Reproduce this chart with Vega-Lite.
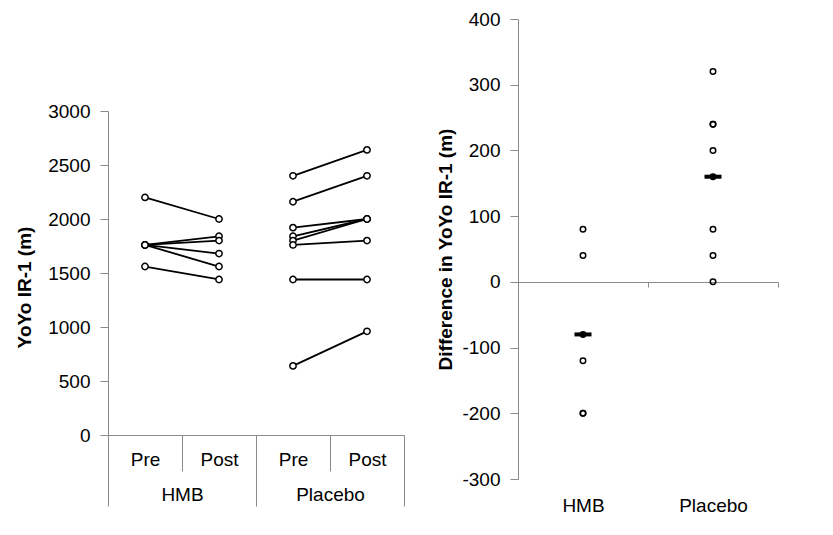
{
  "$schema": "https://vega.github.io/schema/vega-lite/v6.json",
  "padding": {"left": 15, "top": 10, "right": 20, "bottom": 10},
  "spacing": 114,
  "bounds": "flush",
  "config": {
    "font": "Liberation Sans",
    "view": {"stroke": null},
    "axis": {
      "labelFont": "Liberation Sans", "labelFontSize": 19, "labelColor": "#000",
      "domainColor": "#8a8a8a", "tickColor": "#8a8a8a", "grid": false,
      "titleFont": "Liberation Sans", "titleFontSize": 19, "titleFontWeight": "bold", "titleColor": "#000"
    }
  },
  "datasets": {
    "yoyo": [
      {"id": "h1", "cond": "HMB Pre", "value": 2200}, {"id": "h1", "cond": "HMB Post", "value": 2000},
      {"id": "h2", "cond": "HMB Pre", "value": 1760}, {"id": "h2", "cond": "HMB Post", "value": 1840},
      {"id": "h3", "cond": "HMB Pre", "value": 1760}, {"id": "h3", "cond": "HMB Post", "value": 1800},
      {"id": "h4", "cond": "HMB Pre", "value": 1760}, {"id": "h4", "cond": "HMB Post", "value": 1680},
      {"id": "h5", "cond": "HMB Pre", "value": 1760}, {"id": "h5", "cond": "HMB Post", "value": 1560},
      {"id": "h6", "cond": "HMB Pre", "value": 1560}, {"id": "h6", "cond": "HMB Post", "value": 1440},
      {"id": "p1", "cond": "Placebo Pre", "value": 2400}, {"id": "p1", "cond": "Placebo Post", "value": 2640},
      {"id": "p2", "cond": "Placebo Pre", "value": 2160}, {"id": "p2", "cond": "Placebo Post", "value": 2400},
      {"id": "p3", "cond": "Placebo Pre", "value": 1920}, {"id": "p3", "cond": "Placebo Post", "value": 2000},
      {"id": "p4", "cond": "Placebo Pre", "value": 1840}, {"id": "p4", "cond": "Placebo Post", "value": 2000},
      {"id": "p5", "cond": "Placebo Pre", "value": 1800}, {"id": "p5", "cond": "Placebo Post", "value": 2000},
      {"id": "p6", "cond": "Placebo Pre", "value": 1760}, {"id": "p6", "cond": "Placebo Post", "value": 1800},
      {"id": "p7", "cond": "Placebo Pre", "value": 1440}, {"id": "p7", "cond": "Placebo Post", "value": 1440},
      {"id": "p8", "cond": "Placebo Pre", "value": 640}, {"id": "p8", "cond": "Placebo Post", "value": 960}
    ],
    "groups": [{"group": "HMB"}, {"group": "Placebo"}],
    "diff": [
      {"group": "HMB", "diff": 80}, {"group": "HMB", "diff": 40}, {"group": "HMB", "diff": -80},
      {"group": "HMB", "diff": -120}, {"group": "HMB", "diff": -200}, {"group": "HMB", "diff": -200},
      {"group": "Placebo", "diff": 320}, {"group": "Placebo", "diff": 240}, {"group": "Placebo", "diff": 240},
      {"group": "Placebo", "diff": 200}, {"group": "Placebo", "diff": 160}, {"group": "Placebo", "diff": 80},
      {"group": "Placebo", "diff": 40}, {"group": "Placebo", "diff": 0}
    ],
    "means": [{"group": "HMB", "mean": -80}, {"group": "Placebo", "mean": 160}]
  },
  "hconcat": [
    {
      "width": 296,
      "height": 416,
      "layer": [
        {
          "data": {"name": "yoyo"},
          "encoding": {
            "x": {
              "field": "cond", "type": "nominal",
              "sort": ["HMB Pre", "HMB Post", "Placebo Pre", "Placebo Post"],
              "scale": {"paddingInner": 0, "paddingOuter": 0},
              "axis": {
                "orient": "bottom",
                "title": null, "labelAngle": 0, "labelExpr": "split(datum.value, ' ')[1]",
                "tickBand": "extent", "tickSize": 36, "labelBaseline": "middle", "labelPadding": -12
              }
            },
            "y": {
              "field": "value", "type": "quantitative",
              "scale": {"domain": [0, 3000], "range": [416, 92]},
              "axis": {
                "title": "YoYo IR-1 (m)", "values": [0, 500, 1000, 1500, 2000, 2500, 3000],
                "labelExpr": "datum.value + ''",
                "tickSize": 8, "labelPadding": 10,
                "titleX": -84, "titleY": 268, "titleAngle": -90, "titleAlign": "center", "titleBaseline": "middle"
              }
            }
          },
          "layer": [
            {"mark": {"type": "line", "color": "#000", "strokeWidth": 1.8}, "encoding": {"detail": {"field": "id"}}},
            {"mark": {"type": "point", "filled": true, "fill": "#fff", "stroke": "#000", "strokeWidth": 1.5, "size": 40, "opacity": 1}}
          ]
        },
        {
          "data": {"name": "groups"},
          "mark": {"type": "point", "opacity": 0},
          "encoding": {
            "x": {
              "field": "group", "type": "nominal",
              "scale": {"paddingInner": 0, "paddingOuter": 0},
              "axis": {
                "orient": "bottom",
                "title": null, "labelAngle": 0, "domain": false,
                "tickBand": "extent", "tickSize": 71, "labelBaseline": "middle", "labelPadding": -12
              }
            }
          }
        }
      ],
      "resolve": {"scale": {"x": "independent"}, "axis": {"x": "independent"}}
    },
    {
      "width": 260,
      "height": 460,
      "layer": [
        {
          "data": {"name": "diff"},
          "mark": {"type": "point", "filled": false, "stroke": "#000", "strokeWidth": 1.5, "size": 30, "opacity": 1},
          "encoding": {
            "x": {
              "field": "group", "type": "nominal",
              "scale": {"paddingInner": 0, "paddingOuter": 0},
              "axis": {
                "title": null, "labelAngle": 0, "tickBand": "extent", "tickSize": 5,
                "offset": -197, "labelBaseline": "middle", "labelPadding": 218
              }
            },
            "y": {
              "field": "diff", "type": "quantitative",
              "scale": {"domain": [-300, 400]},
              "axis": {
                "title": "Difference in YoYo IR-1 (m)",
                "values": [-300, -200, -100, 0, 100, 200, 300, 400],
                "labelExpr": "datum.value + ''",
                "tickSize": 8, "labelPadding": 10,
                "titleX": -73, "titleY": 230, "titleAngle": -90, "titleAlign": "center", "titleBaseline": "middle"
              }
            }
          }
        },
        {
          "data": {"name": "means"},
          "mark": {"type": "tick", "color": "#000", "thickness": 4, "size": 17, "opacity": 1},
          "encoding": {
            "x": {"field": "group", "type": "nominal"},
            "y": {"field": "mean", "type": "quantitative"}
          }
        },
        {
          "data": {"name": "means"},
          "mark": {"type": "point", "filled": true, "color": "#000", "size": 30, "opacity": 1},
          "encoding": {
            "x": {"field": "group", "type": "nominal"},
            "y": {"field": "mean", "type": "quantitative"}
          }
        }
      ]
    }
  ]
}
